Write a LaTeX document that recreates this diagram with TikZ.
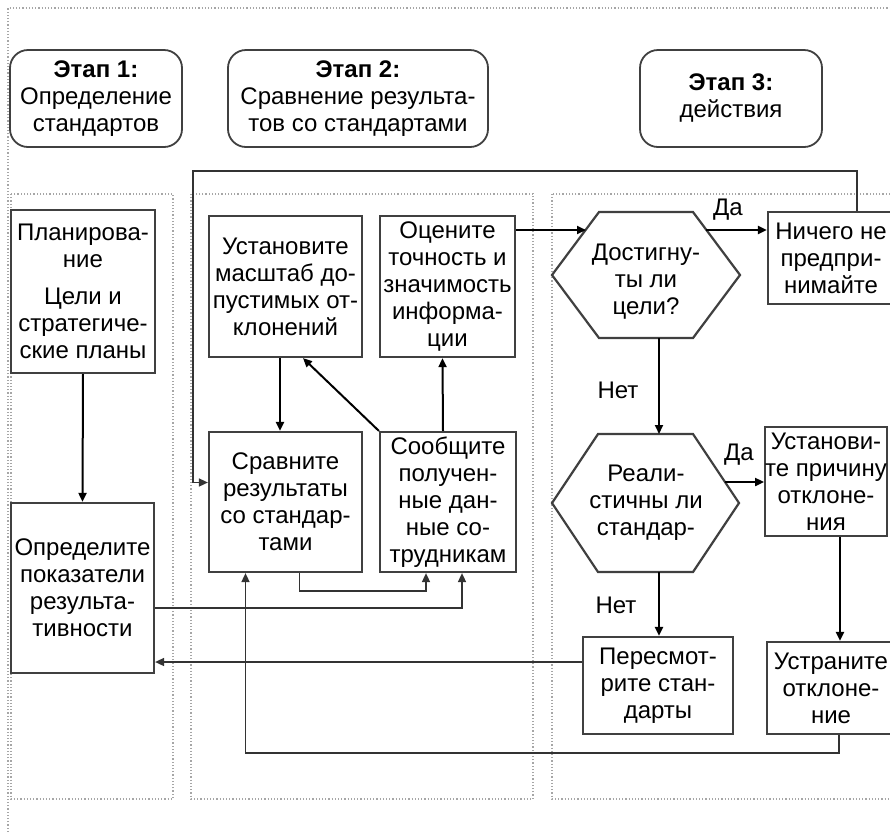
\documentclass[tikz,border=0pt]{standalone}
\usepackage{fontspec}
\setmainfont{Liberation Sans}
\usetikzlibrary{arrows.meta,calc}

\begin{document}
\begin{tikzpicture}[x=0.5pt,y=-0.5pt,
    box/.style={draw=black!75, line width=1.1pt, inner sep=0pt, align=center, font=\fontsize{12}{13.5}\selectfont},
    head/.style={box, rounded corners=9pt, line width=0.9pt},
    lane/.style={draw=black!35, densely dotted, line width=0.6pt},
    hexa/.style={draw=black!75, line width=1.1pt},
    flow/.style={line width=1pt, -{Triangle[length=4.5pt,width=4pt]}},
    link/.style={line width=0.8pt, draw=black!80, -{Triangle[length=4.5pt,width=4pt]}},
    lbl/.style={align=center, inner sep=0pt, font=\fontsize{12}{13.5}\selectfont}]

    % Page size
    \fill[white] (0,0) rectangle (890,832);
    \clip (0,0) rectangle (890,832);

    % Outer frame and the three lanes
    \draw[lane] (8,832) -- (8,8) -- (890,8);
    \draw[lane] (11,194) rectangle (173,799);
    \draw[lane] (191,194) rectangle (533,799);
    \draw[lane] (552,194) rectangle (900,799);

    % Stage headers
    \node[head, minimum width=86pt, minimum height=48.5pt] (st1) at (96,98.5) {\textbf{Этап 1:}\\Определение\\стандартов};
    \node[head, minimum width=130pt, minimum height=48.5pt] (st2) at (358,98.5) {\textbf{Этап 2:}\\Сравнение результа-\\тов со стандартами};
    \node[head, minimum width=91pt, minimum height=48.5pt] (st3) at (731,98.5) {\textbf{Этап 3:}\\действия};

    % Stage 1 boxes
    \node[box, minimum width=72pt, minimum height=81.5pt] (plan) at (83,291.5) {Планирова-\\ние\\[5pt]Цели и\\стратегиче-\\ские планы};
    \node[box, minimum width=71.5pt, minimum height=85pt] (define) at (82.5,588) {Определите\\показатели\\результа-\\тивности};

    % Stage 2 boxes
    \node[box, minimum width=76.5pt, minimum height=70.5pt] (scale) at (285.5,286.5) {Установите\\масштаб до-\\пустимых от-\\клонений};
    \node[box, minimum width=67.5pt, minimum height=70.5pt] (assess) at (447.5,286.5) {Оцените\\точность и\\значимость\\информа-\\ции};
    \node[box, minimum width=76.5pt, minimum height=70pt] (compare) at (285.5,502) {Сравните\\результаты\\со стандар-\\тами};
    \node[box, minimum width=68pt, minimum height=70pt] (report) at (448,502) {Сообщите\\получен-\\ные дан-\\ные со-\\трудникам};

    % Stage 3 decisions (hexagons)
    \coordinate (gw) at (552,275);
    \coordinate (gnw) at (599,212);
    \coordinate (gne) at (693,212);
    \coordinate (ge) at (740,275);
    \coordinate (gse) at (693,338);
    \coordinate (gsw) at (599,338);
    \draw[hexa] (gw) -- (gnw) -- (gne) -- (ge) -- (gse) -- (gsw) -- cycle;
    \node[lbl] (goal) at (646,282) {Достигну-\\ты ли\\цели?};

    \coordinate (rw) at (552,503);
    \coordinate (rnw) at (598,434);
    \coordinate (rne) at (693,434);
    \coordinate (re) at (739,503);
    \coordinate (rse) at (693,572);
    \coordinate (rsw) at (598,572);
    \draw[hexa] (rw) -- (rnw) -- (rne) -- (re) -- (rse) -- (rsw) -- cycle;
    \node[lbl] (real) at (646,503) {Реали-\\стичны ли\\стандар-};

    % Stage 3 boxes
    \node[box, minimum width=63pt, minimum height=46pt] (nothing) at (831,258) {Ничего не\\предпри-\\нимайте};
    \node[box, minimum width=59pt, minimum height=54.5pt] (cause) at (826,481.5) {Установи-\\те причину\\отклоне-\\ния};
    \node[box, minimum width=75pt, minimum height=48.5pt] (revise) at (658,685.5) {Пересмот-\\рите стан-\\дарты};
    \node[box, minimum width=64pt, minimum height=46pt] (fix) at (831,688) {Устраните\\отклоне-\\ние};

    % Points on the hexagon edges
    \coordinate (gin) at (586,230);
    \coordinate (gyes) at (706,230);
    \coordinate (gno) at (659,338);
    \coordinate (rin) at (659,434);
    \coordinate (ryes) at (725,482);
    \coordinate (rno) at (659,572);

    % Arrows inside the stages
    \draw[flow] (plan.south) -- (define.north);
    \draw[flow] ([xshift=-2.75pt]scale.south) -- ([xshift=-2.75pt]compare.north);
    \draw[flow] (report.north west) -- ([xshift=8.75pt]scale.south);
    \draw[flow] ([xshift=-2.5pt]report.north) -- ([xshift=-2.5pt]assess.south);
    \draw[flow] (gin -| assess.east) -- (gin);
    \draw[flow] (gyes) -- (gyes -| nothing.west);
    \draw[flow] (gno) -- (rin);
    \draw[flow] (ryes) -- (ryes -| cause.west);
    \draw[flow] (rno) -- (rno |- revise.north);
    \coordinate (c1) at ([xshift=7pt]cause.south);
    \draw[flow] (c1) -- (c1 |- fix.north);

    % Yes / No labels
    \node[lbl] (yes1) at (728,210) {Да};
    \node[lbl] (no1) at (618,390) {Нет};
    \node[lbl] (yes2) at (739,455) {Да};
    \node[lbl] (no2) at (616,605) {Нет};

    % Feedback loops
    \coordinate (t1) at (193,171);
    \draw[link] ([xshift=13pt]nothing.north) |- (t1) |- ([yshift=9.75pt]compare.west);
    \draw[link] ([xshift=7pt]compare.south) -- ++(0,18) -| ([xshift=-11pt]report.south);
    \draw[link] ([yshift=-10pt]define.east) -| ([xshift=7pt]report.south);
    \coordinate (r1) at ([yshift=11.75pt]revise.west);
    \draw[link] (r1) -- (r1 -| define.east);
    \draw[link] ([xshift=4pt]fix.south) -- ++(0,18) -| ([xshift=-20pt]compare.south);

\end{tikzpicture}
\end{document}
